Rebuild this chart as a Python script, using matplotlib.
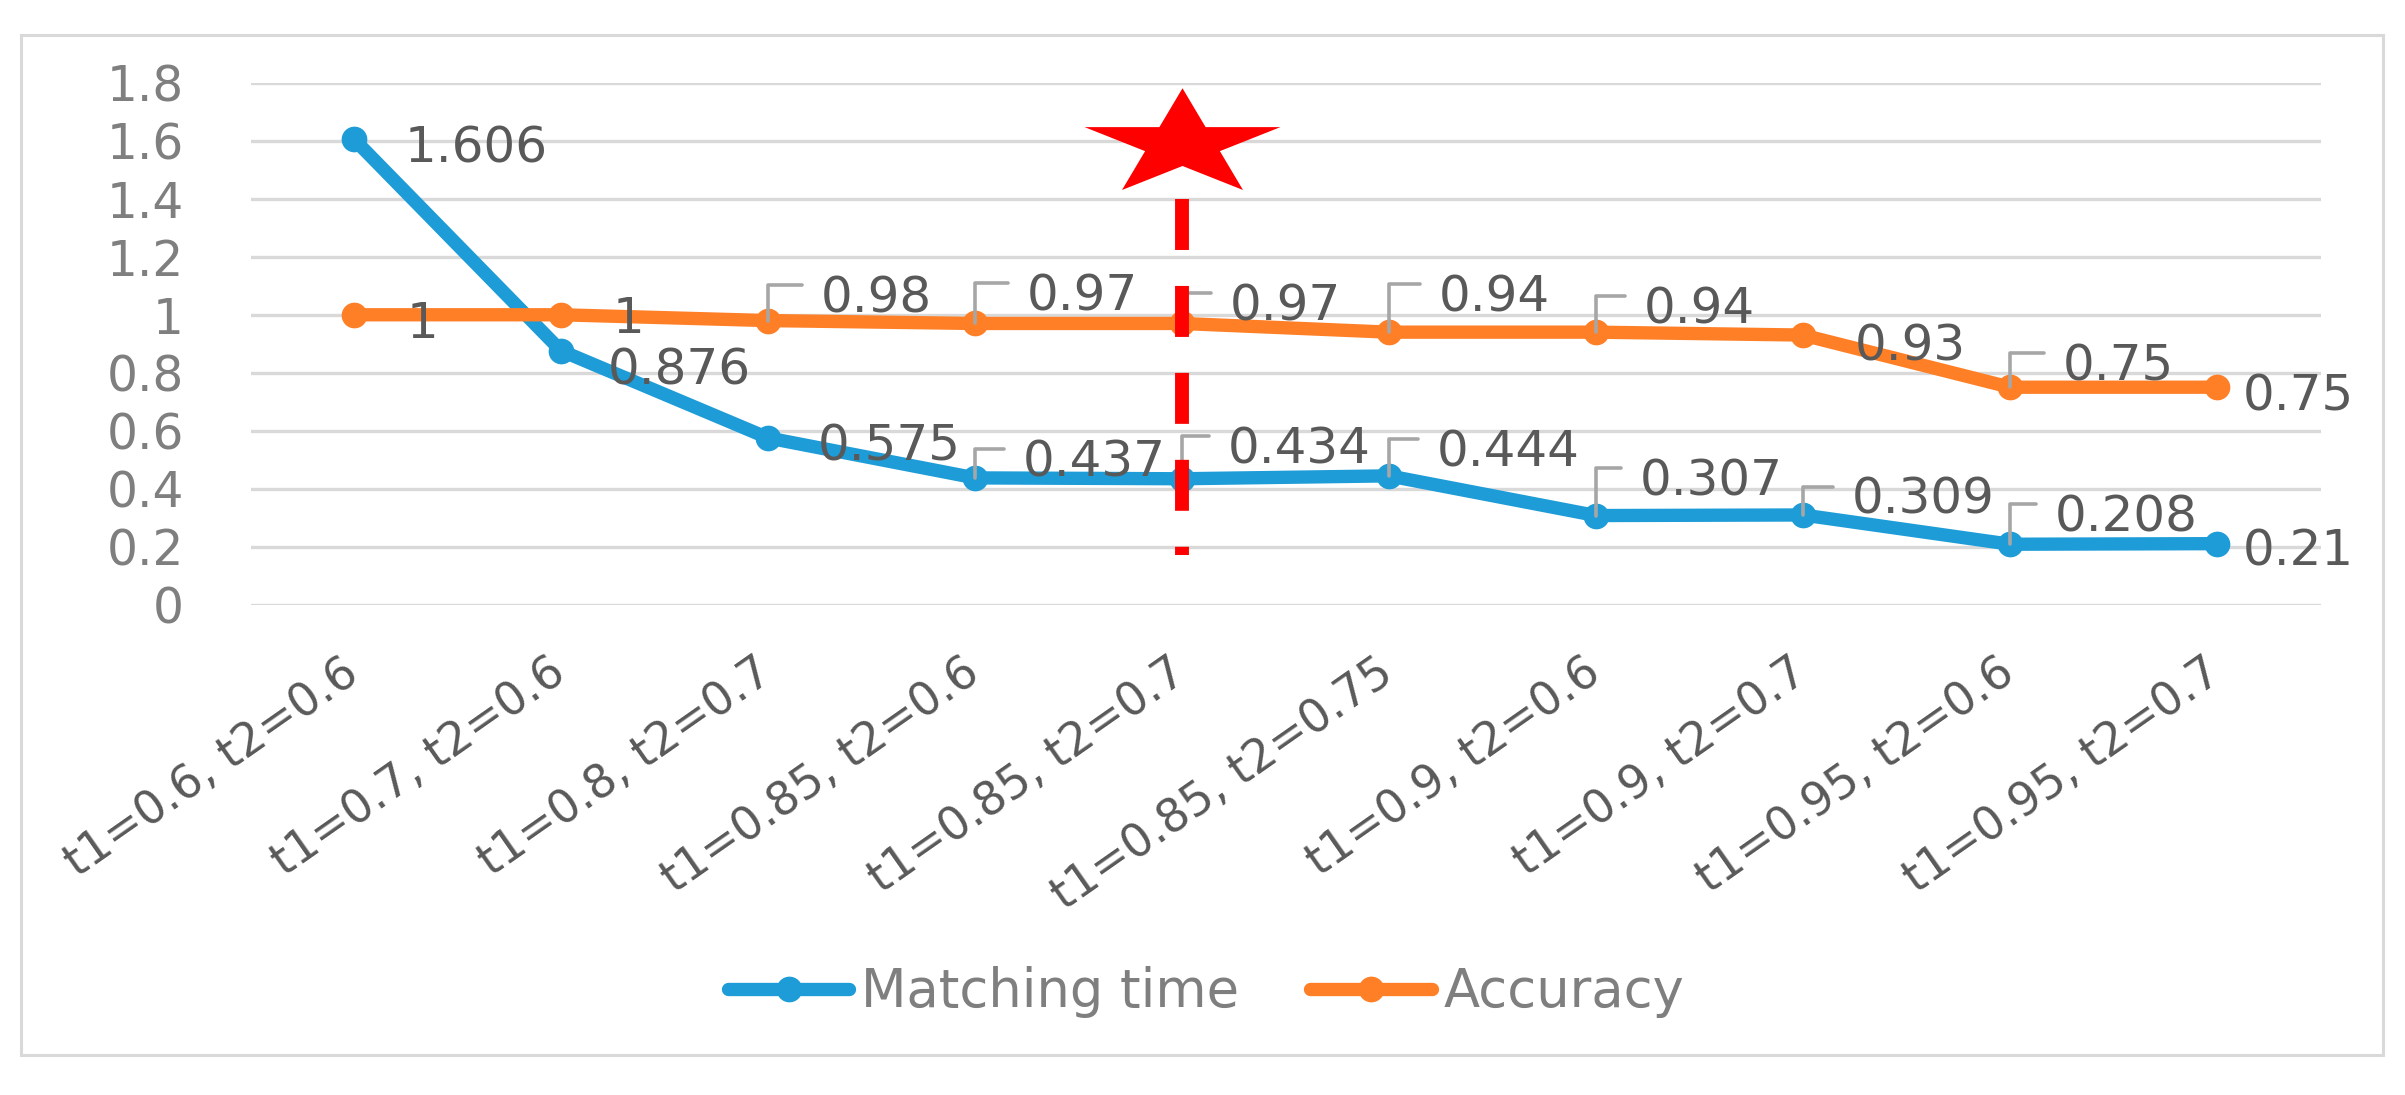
import numpy as np
import matplotlib.pyplot as plt
from matplotlib.path import Path
from matplotlib.patches import Rectangle

# data
configs = ["t1=0.6, t2=0.6", "t1=0.7, t2=0.6", "t1=0.8, t2=0.7", "t1=0.85, t2=0.6",
           "t1=0.85, t2=0.7", "t1=0.85, t2=0.75", "t1=0.9, t2=0.6", "t1=0.9, t2=0.7",
           "t1=0.95, t2=0.6", "t1=0.95, t2=0.7"]
matching_time = [1.606, 0.876, 0.575, 0.437, 0.434, 0.444, 0.307, 0.309, 0.208, 0.21]
accuracy = [1, 1, 0.98, 0.97, 0.97, 0.94, 0.94, 0.93, 0.75, 0.75]
y_ticks = [0, 0.2, 0.4, 0.6, 0.8, 1, 1.2, 1.4, 1.6, 1.8]

# chosen setting: star + dashed marker line
best = 4
star_y = 1.59
dash_top, dash_bottom = 1.40, 0.17

# data label placement in pixels from the point: (dx, dy up, leader line?)
time_places = [(51, -5, 0), (47, -16, 0), (50, -5, 0), (48, 19, 1), (46, 33, 1),
               (48, 27, 1), (44, 38, 1), (49, 19, 1), (45, 31, 1), (26, -4, 0)]
acc_places = [(53, -5, 0), (52, 0, 0), (53, 26, 1), (52, 31, 1), (48, 21, 1),
              (50, 39, 1), (48, 27, 1), (52, -7, 0), (53, 25, 1), (26, -5, 0)]

BLUE = '#1E9CD7'
ORANGE = '#FF7F27'
GRID = '#D9D9D9'
LEAD = '#A6A6A6'
PX = 0.72  # points per pixel at dpi 100

W, H = 2405, 1095
fig = plt.figure(figsize=(W / 100, H / 100), dpi=100)
ax = fig.add_axes([250.5 / W, 1 - 604.5 / H, 2070 / W, 521.5 / H])

x = np.arange(len(configs))
ax.plot(x, matching_time, color=BLUE, lw=9.6, marker='o', ms=17.5,
        solid_capstyle='round', zorder=2, label='Matching time')
ax.plot(x, accuracy, color=ORANGE, lw=9.6, marker='o', ms=17.5,
        solid_capstyle='round', zorder=2.1, label='Accuracy')


def put_labels(xs, ys, places):
    for xi, yi, (dx, dy, lead) in zip(xs, ys, places):
        kw = {}
        if lead:
            kw['arrowprops'] = dict(arrowstyle='-', color=LEAD, lw=2.6,
                                    shrinkA=12, shrinkB=0, relpos=(0, 0.78),
                                    connectionstyle='angle,angleA=0,angleB=90,rad=0')
        ax.annotate('{:g}'.format(yi), (xi, yi), xytext=(dx * PX, (dy - 18) * PX),
                    textcoords='offset points', ha='left', va='baseline',
                    fontsize=36, color='#595959', zorder=3, **kw)


put_labels(x, matching_time, time_places)
put_labels(x, accuracy, acc_places)

# red dashed line + stretched star over the chosen setting
ax.plot([best, best], [dash_top, dash_bottom], color='red', lw=10,
        linestyle=(0, (3.67, 2.59)), dash_capstyle='butt', zorder=5)
star = Path.unit_regular_star(5, 0.381966)
star = Path(star.vertices * [1.83, 1.0], star.codes)
ax.plot([best], [star_y], marker=star, ms=141, color='red', mew=0,
        linestyle='none', zorder=5, clip_on=False)

ax.set_xlim(-0.5, len(configs) - 0.5)
ax.set_ylim(0, 1.8)
ax.set_yticks(y_ticks)
ax.set_yticklabels(['{:g}'.format(v) for v in y_ticks])
ax.set_xticks(x)
ax.set_xticklabels(configs, rotation=35, ha='right', va='center',
                   rotation_mode='anchor', fontsize=33, color='#595959')
ax.tick_params(axis='x', length=0, pad=46)
ax.tick_params(axis='y', length=0, pad=48, labelsize=35, labelcolor='#7F7F7F')
ax.grid(axis='y', color=GRID, lw=2.4)
ax.set_axisbelow(True)
for s in ax.spines.values():
    s.set_visible(False)

leg = fig.legend(loc='center', bbox_to_anchor=(1206 / W, 1 - 992 / H), ncol=2,
                 frameon=False, fontsize=38, handlelength=2.3,
                 handletextpad=0.22, columnspacing=1.35, labelcolor='#7F7F7F')

fig.patches.append(Rectangle((20.7 / W, 40 / H), (2383 - 20.7) / W, (1055 - 35) / H,
                             transform=fig.transFigure, fill=False, ec=GRID, lw=2.2))

fig.savefig('out.png', dpi=100)
